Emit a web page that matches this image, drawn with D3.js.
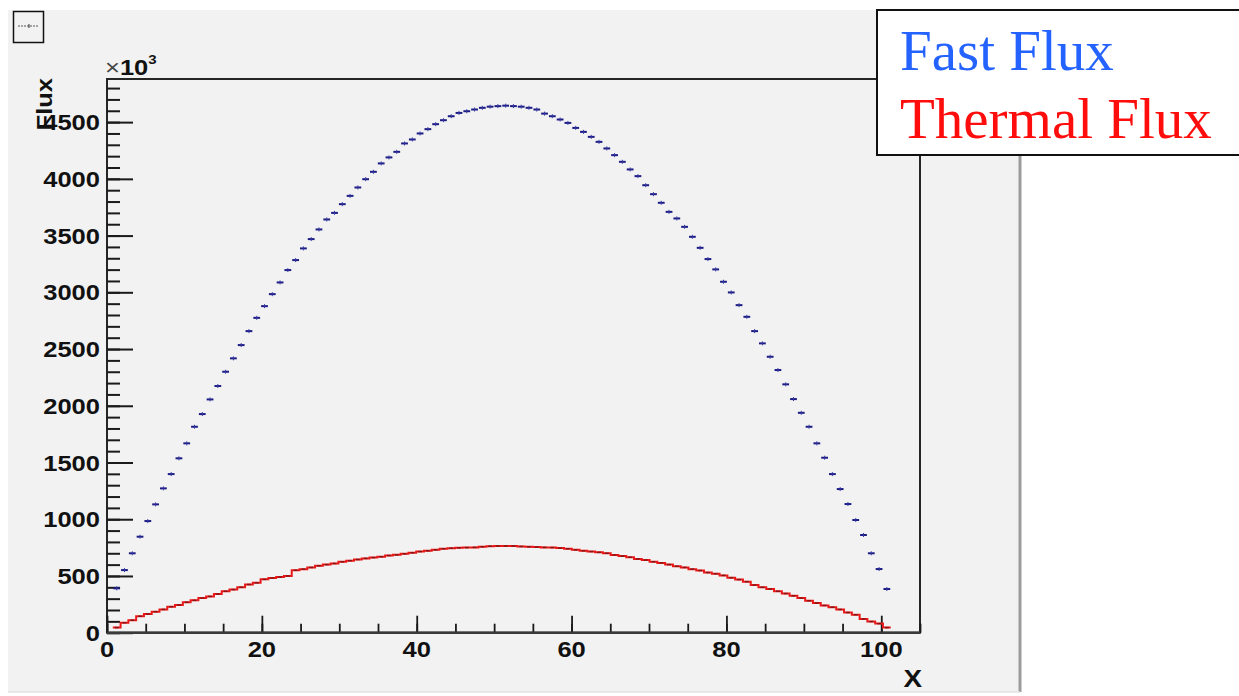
<!DOCTYPE html>
<html>
<head>
<meta charset="utf-8">
<script src="https://cdn.jsdelivr.net/npm/d3@7"></script>
<style>
  html, body { margin: 0; padding: 0; background: #ffffff; }
  svg { display: block; }
</style>
</head>
<body>
<div id="chart"></div>
<script>
// histogram binning (100 bins)
var binLow = 0.75;
var binHigh = 101.22;

// Fast flux, units of 10^3, one value per bin
var fastFlux = [
  391, 552, 700, 846, 984, 1131, 1272, 1398, 1537, 1669,
  1815, 1927, 2056, 2174, 2300, 2418, 2535, 2658, 2775, 2878,
  2984, 3087, 3196, 3284, 3387, 3469, 3554, 3642, 3700, 3777,
  3850, 3924, 3997, 4062, 4136, 4189, 4238, 4312, 4347, 4400,
  4438, 4482, 4517, 4552, 4581, 4596, 4611, 4626, 4636, 4641,
  4645, 4641, 4636, 4626, 4611, 4575, 4552, 4523, 4493, 4449,
  4414, 4370, 4326, 4268, 4209, 4150, 4083, 4024, 3944, 3865,
  3789, 3709, 3651, 3577, 3489, 3392, 3293, 3202, 3093, 2999,
  2887, 2784, 2658, 2550, 2432, 2315, 2189, 2059, 1938, 1815,
  1669, 1542, 1398, 1266, 1134, 993, 861, 700, 561, 385
];

// Thermal flux, units of 10^3, one value per bin
var thermalFlux = [
  45, 88, 110, 145, 165, 185, 205, 229, 245, 268,
  285, 305, 320, 340, 365, 380, 400, 425, 440, 470,
  482, 490, 500, 550, 560, 575, 590, 600, 610, 625,
  635, 645, 655, 662, 670, 680, 686, 695, 705, 715,
  722, 730, 740, 745, 748, 750, 752, 758, 762, 764,
  765, 764, 760, 757, 755, 752, 750, 746, 740, 730,
  722, 715, 708, 700, 685, 675, 665, 650, 640, 625,
  615, 600, 585, 575, 560, 548, 530, 520, 505, 485,
  468, 450, 420, 400, 385, 365, 345, 325, 305, 282,
  262, 240, 225, 205, 178, 158, 120, 98, 80, 45
];

var xMajorTicks = [0, 20, 40, 60, 80, 100];
var xMinorTicks = d3.range(0, 105.1, 5);
var yMajorTicks = d3.range(0, 4501, 500);
var yMinorTicks = d3.range(0, 4801, 100);

var legendItems = [
  { label: 'Fast Flux', color: '#2463ff' },
  { label: 'Thermal Flux', color: '#ff0d0d' }
];

var width = 1239, height = 696;
var frame = { left: 107, top: 79, right: 920, bottom: 632.7 };
var stretch = 1.16;

var svg = d3.select('#chart').append('svg')
  .attr('width', width)
  .attr('height', height)
  .attr('viewBox', '0 0 ' + width + ' ' + height);

// canvas background
svg.append('rect')
  .attr('x', 8).attr('y', 10)
  .attr('width', 1012).attr('height', 682)
  .attr('fill', '#f2f2f2');
svg.append('line')
  .attr('x1', 1020).attr('x2', 1020).attr('y1', 10).attr('y2', 692)
  .attr('stroke', '#9c9c9c').attr('stroke-width', 3);
svg.append('line')
  .attr('x1', 8).attr('x2', 1020).attr('y1', 692).attr('y2', 692)
  .attr('stroke', '#e2e2e2').attr('stroke-width', 1.5);

// small icon top-left
var icon = svg.append('g');
icon.append('rect')
  .attr('x', 13.5).attr('y', 11.5).attr('width', 30).attr('height', 31)
  .attr('fill', 'none').attr('stroke', '#111').attr('stroke-width', 1.5);
icon.append('line')
  .attr('x1', 18).attr('x2', 39).attr('y1', 26).attr('y2', 26)
  .attr('stroke', '#555').attr('stroke-width', 1).attr('stroke-dasharray', '2,1');
icon.append('line')
  .attr('x1', 29).attr('x2', 29).attr('y1', 24).attr('y2', 28)
  .attr('stroke', '#333').attr('stroke-width', 1);

var x = d3.scaleLinear().domain([0, 105]).range([frame.left, frame.right]);
var y = d3.scaleLinear().domain([0, 4880]).range([frame.bottom, frame.top]);

var binWidth = (binHigh - binLow) / fastFlux.length;
var binEdges = d3.range(fastFlux.length + 1).map(function(i) { return binLow + i * binWidth; });

// frame
svg.append('rect')
  .attr('x', frame.left).attr('y', frame.top)
  .attr('width', frame.right - frame.left)
  .attr('height', frame.bottom - frame.top)
  .attr('fill', 'none').attr('stroke', '#262626').attr('stroke-width', 2);

// axes (ticks point inward)
function styleAxis(g) {
  g.select('.domain').remove();
  g.selectAll('.tick line').attr('stroke', '#1a1a1a');
  g.selectAll('.tick text').remove();
}

svg.append('g')
  .attr('transform', 'translate(' + frame.left + ',0)')
  .call(d3.axisLeft(y).tickValues(yMinorTicks).tickSize(-13).tickFormat(''))
  .call(styleAxis)
  .selectAll('.tick line').attr('stroke-width', 2);
svg.append('g')
  .attr('transform', 'translate(' + frame.left + ',0)')
  .call(d3.axisLeft(y).tickValues(yMajorTicks).tickSize(-26).tickFormat(''))
  .call(styleAxis)
  .selectAll('.tick line').attr('stroke-width', 2);

svg.append('g')
  .attr('transform', 'translate(0,' + frame.bottom + ')')
  .call(d3.axisBottom(x).tickValues(xMinorTicks).tickSize(-9).tickFormat(''))
  .call(styleAxis)
  .selectAll('.tick line').attr('stroke-width', 1.8);
svg.append('g')
  .attr('transform', 'translate(0,' + frame.bottom + ')')
  .call(d3.axisBottom(x).tickValues(xMajorTicks).tickSize(-17).tickFormat(''))
  .call(styleAxis)
  .selectAll('.tick line').attr('stroke-width', 1.8);

// x axis line
svg.append('line')
  .attr('x1', frame.left).attr('x2', frame.right)
  .attr('y1', frame.bottom).attr('y2', frame.bottom)
  .attr('stroke', '#3a3a3a').attr('stroke-width', 2.5);

var labelFont = 'Liberation Sans, Arial, Helvetica, sans-serif';

svg.append('g').selectAll('text')
  .data(yMajorTicks)
  .join('text')
  .attr('transform', function(d) { return 'translate(100,' + (y(d) + 8) + ') scale(' + stretch + ',1)'; })
  .attr('text-anchor', 'end')
  .attr('font-family', labelFont)
  .attr('font-weight', 'bold')
  .attr('font-size', 22)
  .attr('fill', '#111')
  .text(function(d) { return d; });

svg.append('g').selectAll('text')
  .data(xMajorTicks)
  .join('text')
  .attr('transform', function(d) { return 'translate(' + x(d) + ',657) scale(' + stretch + ',1)'; })
  .attr('text-anchor', 'middle')
  .attr('font-family', labelFont)
  .attr('font-weight', 'bold')
  .attr('font-size', 22)
  .attr('fill', '#111')
  .text(function(d) { return d; });

// x10^3 exponent
var expo = svg.append('text')
  .attr('transform', 'translate(105,75) scale(' + stretch + ',1)')
  .attr('font-family', labelFont)
  .attr('font-size', 22)
  .attr('fill', '#111');
expo.append('tspan').attr('font-weight', 'normal').attr('fill', '#444').text('\u00d7');
expo.append('tspan').attr('font-weight', 'bold').text('10');
expo.append('tspan').attr('font-weight', 'bold').attr('font-size', 13).attr('dy', -11).text('3');

// axis titles
svg.append('text')
  .attr('transform', 'translate(52,78) rotate(-90) scale(' + stretch + ',1)')
  .attr('text-anchor', 'end')
  .attr('font-family', labelFont)
  .attr('font-weight', 'bold')
  .attr('font-size', 22)
  .attr('fill', '#111')
  .text('Flux');

svg.append('text')
  .attr('transform', 'translate(922,687) scale(' + stretch + ',1)')
  .attr('text-anchor', 'end')
  .attr('font-family', labelFont)
  .attr('font-weight', 'bold')
  .attr('font-size', 24)
  .attr('fill', '#111')
  .text('X');

// thermal flux: histogram step line
var stepPoints = thermalFlux.map(function(v, i) { return [binEdges[i], v]; });
stepPoints.push([binEdges[thermalFlux.length], thermalFlux[thermalFlux.length - 1]]);

svg.append('path')
  .datum(stepPoints)
  .attr('fill', 'none')
  .attr('stroke', '#e81818')
  .attr('stroke-width', 2)
  .attr('d', d3.line()
    .x(function(d) { return x(d[0]); })
    .y(function(d) { return y(d[1]); })
    .curve(d3.curveStepAfter));

svg.append('g').selectAll('line')
  .data(thermalFlux)
  .join('line')
  .attr('x1', function(d, i) { return x(binEdges[i] + binWidth * 0.25); })
  .attr('x2', function(d, i) { return x(binEdges[i] + binWidth * 0.75); })
  .attr('y1', function(d) { return y(d); })
  .attr('y2', function(d) { return y(d); })
  .attr('stroke', '#8a1414')
  .attr('stroke-width', 1.5);

// fast flux: bin markers with small error bars
var fast = svg.append('g');
fast.selectAll('line.h')
  .data(fastFlux)
  .join('line')
  .attr('class', 'h')
  .attr('x1', function(d, i) { return x(binEdges[i]) + 0.5; })
  .attr('x2', function(d, i) { return x(binEdges[i + 1]) - 0.5; })
  .attr('y1', function(d) { return y(d); })
  .attr('y2', function(d) { return y(d); })
  .attr('stroke', '#1b1b86')
  .attr('stroke-width', 2);
fast.selectAll('line.v')
  .data(fastFlux)
  .join('line')
  .attr('class', 'v')
  .attr('x1', function(d, i) { return x(binEdges[i] + binWidth / 2); })
  .attr('x2', function(d, i) { return x(binEdges[i] + binWidth / 2); })
  .attr('y1', function(d) { return y(d) - 2; })
  .attr('y2', function(d) { return y(d) + 2; })
  .attr('stroke', '#3a3aa0')
  .attr('stroke-width', 1);

// legend
var legend = svg.append('g');
legend.append('rect')
  .attr('x', 877).attr('y', 10)
  .attr('width', 380).attr('height', 145)
  .attr('fill', '#ffffff')
  .attr('stroke', '#111')
  .attr('stroke-width', 2);
legend.selectAll('text')
  .data(legendItems)
  .join('text')
  .attr('x', 900)
  .attr('y', function(d, i) { return 70 + i * 68; })
  .attr('font-family', 'Liberation Serif, Times New Roman, serif')
  .attr('font-size', 57)
  .attr('fill', function(d) { return d.color; })
  .text(function(d) { return d.label; });
</script>
</body>
</html>
